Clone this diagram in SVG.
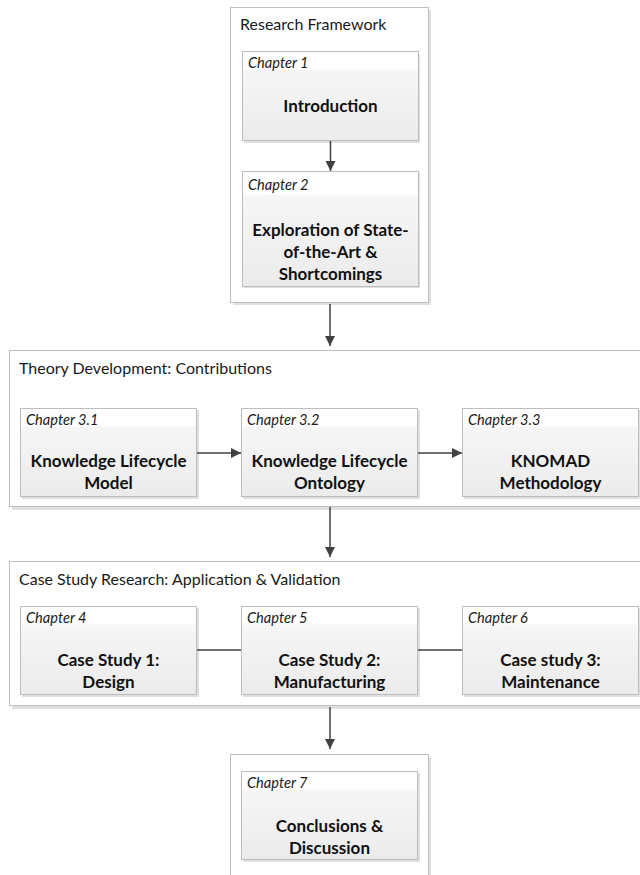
<svg xmlns="http://www.w3.org/2000/svg" width="640" height="875" viewBox="0 0 640 875">
<defs>
<linearGradient id="boxg" x1="0" y1="0" x2="0" y2="1">
<stop offset="0" stop-color="#ffffff"/>
<stop offset="0.2" stop-color="#ffffff"/>
<stop offset="0.21" stop-color="#f6f6f6"/>
<stop offset="1" stop-color="#ebebeb"/>
</linearGradient>
<marker id="arr" viewBox="0 0 10 10" refX="10" refY="5" markerWidth="10" markerHeight="10" markerUnits="userSpaceOnUse" orient="auto">
<path d="M0,0 L10,5 L0,10 z" fill="#404040"/>
</marker>
</defs>
<style>
.cont{fill:#ffffff;stroke:#bfbfbf;stroke-width:1}
.shadow{fill:#e0e0e0}
.box{fill:url(#boxg);stroke:#bdbdbd;stroke-width:1}
.ctitle{font-family:Lato,"Liberation Sans",sans-serif;font-size:16px;fill:#1a1a1a}
.chap{font-family:Lato,"Liberation Sans",sans-serif;font-size:14.6px;font-style:italic;fill:#1a1a1a}
.main{font-family:Lato,"Liberation Sans",sans-serif;font-size:17px;font-weight:bold;fill:#111111;text-anchor:middle}
.conn{stroke:#404040;stroke-width:1.5;fill:none}
</style>

<g id="research-framework">
<rect class="shadow" x="233" y="10" width="198" height="295"/>
<rect class="cont" x="230.5" y="7.5" width="198" height="295"/>
<text class="ctitle" x="240" y="30">Research Framework</text>
</g>
<g id="chapter1">
<rect class="shadow" x="244" y="54" width="176" height="89"/>
<rect class="box" x="242.5" y="51.5" width="176" height="89"/>
<text class="chap" x="248" y="68">Chapter 1</text>
<text class="main" x="330.5" y="112">Introduction</text>
</g>
<g id="chapter2">
<rect class="shadow" x="244" y="173" width="176" height="115"/>
<rect class="box" x="242.5" y="171.5" width="176" height="115"/>
<text class="chap" x="248" y="190">Chapter 2</text>
<text class="main" x="330.5" y="236">Exploration of State-</text>
<text class="main" x="330.5" y="258">of-the-Art &amp;</text>
<text class="main" x="330.5" y="280">Shortcomings</text>
</g>

<g id="theory-development">
<rect class="shadow" x="12" y="353" width="630" height="157"/>
<rect class="cont" x="9.5" y="350.5" width="640" height="156"/>
<text class="ctitle" x="19" y="374">Theory Development: Contributions</text>
</g>
<g id="chapter3-1">
<rect class="shadow" x="22" y="410" width="177" height="89"/>
<rect class="box" x="20.5" y="408.5" width="176" height="88"/>
<text class="chap" x="26" y="425">Chapter 3.1</text>
<text class="main" x="108.5" y="467">Knowledge Lifecycle</text>
<text class="main" x="108.5" y="489">Model</text>
</g>
<g id="chapter3-2">
<rect class="shadow" x="243" y="410" width="177" height="89"/>
<rect class="box" x="241.5" y="408.5" width="176" height="88"/>
<text class="chap" x="247" y="425">Chapter 3.2</text>
<text class="main" x="329.5" y="467">Knowledge Lifecycle</text>
<text class="main" x="329.5" y="489">Ontology</text>
</g>
<g id="chapter3-3">
<rect class="shadow" x="464" y="410" width="177" height="89"/>
<rect class="box" x="462.5" y="408.5" width="176" height="88"/>
<text class="chap" x="468" y="425">Chapter 3.3</text>
<text class="main" x="550.5" y="467">KNOMAD</text>
<text class="main" x="550.5" y="489">Methodology</text>
</g>

<g id="case-study-research">
<rect class="shadow" x="12" y="564" width="630" height="145"/>
<rect class="cont" x="9.5" y="561.5" width="640" height="144"/>
<text class="ctitle" x="19" y="585">Case Study Research: Application &amp; Validation</text>
</g>
<g id="chapter4">
<rect class="shadow" x="22" y="608" width="177" height="89"/>
<rect class="box" x="20.5" y="606.5" width="176" height="88"/>
<text class="chap" x="26" y="623">Chapter 4</text>
<text class="main" x="108.5" y="666">Case Study 1:</text>
<text class="main" x="108.5" y="688">Design</text>
</g>
<g id="chapter5">
<rect class="shadow" x="243" y="608" width="177" height="89"/>
<rect class="box" x="241.5" y="606.5" width="176" height="88"/>
<text class="chap" x="247" y="623">Chapter 5</text>
<text class="main" x="329.5" y="666">Case Study 2:</text>
<text class="main" x="329.5" y="688">Manufacturing</text>
</g>
<g id="chapter6">
<rect class="shadow" x="464" y="608" width="177" height="89"/>
<rect class="box" x="462.5" y="606.5" width="176" height="88"/>
<text class="chap" x="468" y="623">Chapter 6</text>
<text class="main" x="550.5" y="666">Case study 3:</text>
<text class="main" x="550.5" y="688">Maintenance</text>
</g>

<g id="conclusion-frame">
<rect class="shadow" x="233" y="757" width="198" height="130"/>
<rect class="cont" x="230.5" y="754.5" width="198" height="130"/>
</g>
<g id="chapter7">
<rect class="shadow" x="243" y="773" width="177" height="89"/>
<rect class="box" x="241.5" y="771.5" width="176" height="88"/>
<text class="chap" x="247" y="788">Chapter 7</text>
<text class="main" x="329.5" y="832">Conclusions &amp;</text>
<text class="main" x="329.5" y="854">Discussion</text>
</g>

<g id="connectors">
<line class="conn" x1="330.5" y1="141" x2="330.5" y2="171" marker-end="url(#arr)"/>
<line class="conn" x1="330" y1="304" x2="330" y2="346" marker-end="url(#arr)"/>
<line class="conn" x1="197" y1="453" x2="241" y2="453" marker-end="url(#arr)"/>
<line class="conn" x1="418" y1="453" x2="462" y2="453" marker-end="url(#arr)"/>
<line class="conn" x1="330" y1="507" x2="330" y2="557" marker-end="url(#arr)"/>
<line class="conn" x1="197" y1="650" x2="241" y2="650"/>
<line class="conn" x1="418" y1="650" x2="462" y2="650"/>
<line class="conn" x1="330" y1="707" x2="330" y2="749" marker-end="url(#arr)"/>
</g>
</svg>
